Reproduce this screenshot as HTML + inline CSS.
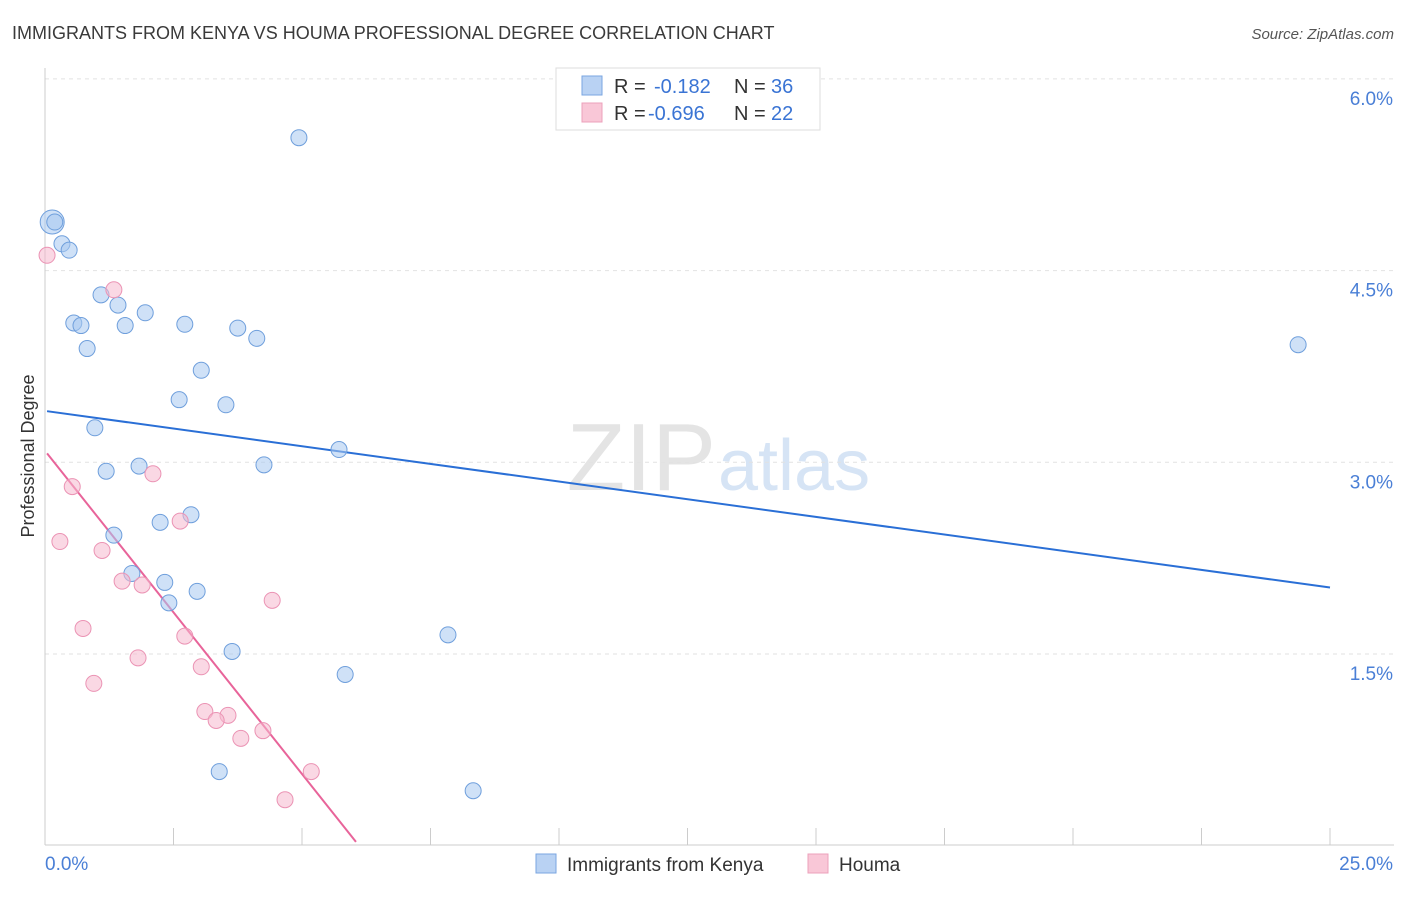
<!DOCTYPE html>
<html><head><meta charset="utf-8">
<style>
body{margin:0;background:#fff;font-family:"Liberation Sans",sans-serif;}
svg text{font-family:"Liberation Sans",sans-serif;}
</style></head>
<body>
<svg id="chart" width="1406" height="892">
<text x="12" y="39" font-size="18" fill="#3a3a3a">IMMIGRANTS FROM KENYA VS HOUMA PROFESSIONAL DEGREE CORRELATION CHART</text>
<text x="1394" y="39" font-size="15" fill="#555" font-style="italic" text-anchor="end">Source: ZipAtlas.com</text>
<text x="716" y="490" font-size="96" fill="#e4e4e4" text-anchor="end" font-family="Liberation Serif">ZIP</text>
<text x="718" y="490" font-size="72" fill="#d6e4f5">atlas</text>
<g id="grid"></g><g id="axes"></g><g id="lines"></g><g id="points"></g>
<text transform="translate(34,456) rotate(-90)" font-size="18" fill="#333" text-anchor="middle">Professional Degree</text>
<g>
<rect x="556" y="68" width="264" height="62" fill="#fff" stroke="#ddd"/>
<rect x="582" y="76" width="20" height="19" fill="#b9d2f3" stroke="#7aa6e0"/>
<rect x="582" y="103" width="20" height="19" fill="#f9c7d7" stroke="#eca0bb"/>
<text x="614" y="93" font-size="20" fill="#333">R =</text>
<text x="654" y="93" font-size="20" fill="#3a74d4">-0.182</text>
<text x="734" y="93" font-size="20" fill="#333">N =</text>
<text x="771" y="93" font-size="20" fill="#3a74d4">36</text>
<text x="614" y="120" font-size="20" fill="#333">R =</text>
<text x="648" y="120" font-size="20" fill="#3a74d4">-0.696</text>
<text x="734" y="120" font-size="20" fill="#333">N =</text>
<text x="771" y="120" font-size="20" fill="#3a74d4">22</text>
</g>
<g>
<rect x="536" y="854" width="20" height="19" fill="#b9d2f3" stroke="#7aa6e0"/>
<text x="567" y="871" font-size="19" fill="#333">Immigrants from Kenya</text>
<rect x="808" y="854" width="20" height="19" fill="#f9c7d7" stroke="#eca0bb"/>
<text x="839" y="871" font-size="19" fill="#333">Houma</text>
</g>
</svg>
<script>
const yTicks=[1.5,3.0,4.5,6.0];
const yTickLabels=["1.5%","3.0%","4.5%","6.0%"];
const xTickLabels=["0.0%","25.0%"];
const kenyaX=[0.14,0.19,0.33,0.47,4.94,1.09,1.42,1.95,0.56,0.70,1.56,2.72,3.75,4.12,0.82,3.04,2.61,3.52,0.97,5.72,1.19,1.83,4.26,2.24,2.84,1.34,1.69,2.33,2.41,2.96,3.64,5.84,7.84,3.39,8.33,24.38];
const kenyaY=[4.88,4.88,4.71,4.66,5.54,4.31,4.23,4.17,4.09,4.07,4.07,4.08,4.05,3.97,3.89,3.72,3.49,3.45,3.27,3.10,2.93,2.97,2.98,2.53,2.59,2.43,2.13,2.06,1.90,1.99,1.52,1.34,1.65,0.58,0.43,3.92];
const houmaX=[0.04,1.34,0.53,2.10,0.29,2.63,1.11,1.50,1.89,4.42,0.74,2.72,1.81,3.04,0.95,3.11,3.56,3.33,3.81,4.24,5.18,4.67];
const houmaY=[4.62,4.35,2.81,2.91,2.38,2.54,2.31,2.07,2.04,1.92,1.70,1.64,1.47,1.40,1.27,1.05,1.02,0.98,0.84,0.90,0.58,0.36];
const kenyaTrend=[0.04,3.40,25,2.02];
const houmaTrend=[0.04,3.07,6.05,0.03];
const X=v=>45+v*51.4, Y=v=>845.7-v*127.8;
const NS="http://www.w3.org/2000/svg";
function mk(t,a,p){const e=document.createElementNS(NS,t);for(const k in a)e.setAttribute(k,a[k]);document.getElementById(p).appendChild(e);return e;}
yTicks.forEach((t,i)=>{
 const g=mk('line',{x1:45,x2:1394,y1:Y(t),y2:Y(t),stroke:'#e2e2e2','stroke-dasharray':'4,4'},'grid');
 
 
 const l=mk('text',{x:1393,y:Y(t)+26,'font-size':19,fill:'#4a7fd6','text-anchor':'end'},'grid');
 l.textContent=yTickLabels[i];
 
 
});
const xa=mk('line',{x1:45,x2:1394,y1:845,y2:845,stroke:'#ccc'},'axes');


const ya=mk('line',{x1:45,x2:45,y1:68,y2:845,stroke:'#ccc'},'axes');


for(let i=1;i<=10;i++){
 const t=mk('line',{x1:X(i*2.5),x2:X(i*2.5),y1:828,y2:845,stroke:'#ccc'},'axes');
 
 
}
[[0,45,'start'],[25,1393,'end']].forEach((d,i)=>{
 const l=mk('text',{x:d[1],y:870,'font-size':19,fill:'#4a7fd6','text-anchor':d[2]},'axes');
 l.textContent=xTickLabels[i];
 
 
});
const bl=mk('line',{x1:X(kenyaTrend[0]),y1:Y(kenyaTrend[1]),x2:X(kenyaTrend[2]),y2:Y(kenyaTrend[3]),stroke:'#2a6fd6','stroke-width':2},'lines');


const pl=mk('line',{x1:X(houmaTrend[0]),y1:Y(houmaTrend[1]),x2:X(houmaTrend[2]),y2:Y(houmaTrend[3]),stroke:'#e8649a','stroke-width':2},'lines');


kenyaX.forEach((x,i)=>{
 const c=mk('circle',{cx:X(x),cy:Y(kenyaY[i]),r:i===0?12:8,fill:'rgba(168,200,240,0.55)',stroke:'#6f9fdc','stroke-width':1},'points');
 
 
});
houmaX.forEach((x,i)=>{
 const c=mk('circle',{cx:X(x),cy:Y(houmaY[i]),r:8,fill:'rgba(246,184,206,0.55)',stroke:'#eb93b4','stroke-width':1},'points');
 
 
});
</script>
</body></html>
